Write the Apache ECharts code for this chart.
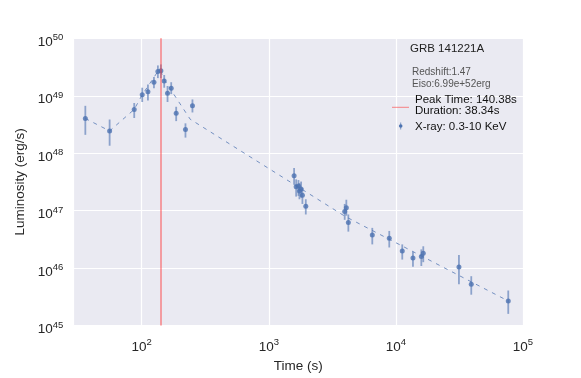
<!DOCTYPE html>
<html>
<head>
<meta charset="utf-8">
<script src="https://cdn.jsdelivr.net/npm/echarts@6/dist/echarts.min.js"></script>
<style>
  html, body { margin: 0; padding: 0; background: #fff; }
  #chart { width: 581px; height: 378px; }
</style>
</head>
<body>
<div id="chart"></div>
<script>
// observed X-ray light curve (time in s, luminosity in erg/s)
const times = [36.0, 55.9, 87.3, 100.9, 111.9, 124.8, 134.0, 141.5, 150.3, 159.6, 170.6, 186.7, 220.9, 250.7,
  1581, 1641, 1711, 1742, 1795, 1838, 1954, 3954, 4073, 4225, 6518, 8868, 11220, 13620, 15850, 16420,
  31330, 39170, 76560];
const lum = [4.02e48, 2.44e48, 5.79e48, 1.04e49, 1.17e49, 1.72e49, 2.65e49, 2.72e49, 1.81e49, 1.11e49, 1.35e49, 4.98e48, 2.59e48, 6.68e48,
  4.04e47, 2.61e47, 2.68e47, 2.19e47, 2.39e47, 1.85e47, 1.20e47, 9.64e46, 1.12e47, 6.25e46, 3.76e46, 3.30e46, 1.99e46, 1.50e46, 1.60e46, 1.82e46,
  1.05e46, 5.26e45, 2.68e45];
const lumLow = [2.09e48, 1.35e48, 4.10e48, 7.78e48, 8.30e48, 1.35e49, 2.03e49, 2.03e49, 1.38e49, 7.78e48, 1.07e49, 3.62e48, 1.87e48, 5.12e48,
  2.82e47, 1.76e47, 1.81e47, 1.58e47, 1.69e47, 1.31e47, 8.59e46, 6.93e46, 8.18e46, 4.32e46, 2.59e46, 2.29e46, 1.41e46, 1.06e46, 1.09e46, 1.27e46,
  5.26e45, 3.45e45, 1.60e45];
const lumHigh = [6.68e48, 3.86e48, 7.48e48, 1.38e49, 1.57e49, 2.13e49, 3.37e49, 3.51e49, 2.30e49, 1.48e49, 1.72e49, 6.43e48, 3.31e48, 8.63e48,
  5.55e47, 3.51e47, 3.41e47, 3.01e47, 3.21e47, 2.48e47, 1.58e47, 1.31e47, 1.55e47, 8.59e46, 5.02e46, 4.44e46, 2.59e46, 1.93e46, 2.12e46, 2.40e46,
  1.70e46, 7.24e45, 4.08e45];

// dashed model curve
const modelTimes = [36.0, 55.9, 87.3, 100.9, 134.0, 141.5, 147.5, 240.5, 3981, 76560];
const modelLum = [4.02e48, 2.44e48, 5.79e48, 1.04e49, 2.65e49, 2.72e49, 2.03e49, 3.91e48, 7.96e46, 2.68e45];

const peakTime = 140.38;
const grbName = 'GRB 141221A';
const infoLines = ['Redshift:1.47', 'Eiso:6.99e+52erg'];
const legendPeak = ['Peak Time: 140.38s', 'Duration: 38.34s'];
const legendXray = 'X-ray: 0.3-10 KeV';

const FONT = '"Liberation Sans", Arial, sans-serif';
const BLUE = '#4C72B0';

const chart = echarts.init(document.getElementById('chart'), null, { renderer: 'canvas' });

const powLabel = (v) => {
  const e = Math.round(Math.log10(v));
  return '{b|10}{s|' + e + '}';
};
const richTicks = {
  b: { fontSize: 13.5, fontFamily: FONT, color: '#262626' },
  s: { fontSize: 9.5, fontFamily: FONT, color: '#262626', padding: [0, 0, 9, 0] }
};

const points = times.map((t, i) => [t, lum[i]]);
const bars = times.map((t, i) => [t, lumLow[i], lumHigh[i]]);
const model = modelTimes.map((t, i) => [t, modelLum[i]]);

const txt = (x, y, text, size, fill) => ({
  type: 'text', x: x, y: y, z: 100,
  style: { text: text, font: size + 'px ' + FONT, fill: fill, verticalAlign: 'middle' }
});

const option = {
  animation: false,
  textStyle: { fontFamily: FONT },
  grid: {
    left: 73.4, right: 58, top: 38.3, bottom: 39,
    show: true, backgroundColor: '#EAEAF2', borderWidth: 0
  },
  xAxis: {
    type: 'log', logBase: 10, min: 29, max: 100000,
    name: 'Time (s)', nameLocation: 'middle', nameGap: 31,
    nameTextStyle: { fontSize: 13.5, color: '#262626', fontFamily: FONT },
    axisLine: { show: false }, axisTick: { show: false },
    axisLabel: { formatter: powLabel, rich: richTicks, margin: 12, showMinLabel: false, hideOverlap: false },
    splitLine: { show: true, lineStyle: { color: '#ffffff', width: 1.2 } }
  },
  yAxis: {
    type: 'log', logBase: 10, min: 1e45, max: 1e50,
    name: 'Luminosity (erg/s)', nameLocation: 'middle', nameGap: 45,
    nameTextStyle: { fontSize: 13.5, color: '#262626', fontFamily: FONT },
    axisLine: { show: false }, axisTick: { show: false },
    axisLabel: { formatter: powLabel, rich: richTicks, margin: 10, padding: [8, 0, 0, 0] },
    splitLine: { show: true, lineStyle: { color: '#ffffff', width: 1.2 } }
  },
  series: [
    {
      type: 'line',
      data: model,
      symbol: 'none',
      lineStyle: { color: 'rgba(76,114,176,0.75)', width: 1, type: [4, 5] },
      z: 2,
      markLine: {
        silent: true,
        symbol: 'none',
        label: { show: false },
        lineStyle: { color: 'rgba(255,60,60,0.6)', width: 1.5, type: 'solid' },
        data: [{ xAxis: peakTime }]
      }
    },
    {
      type: 'custom',
      data: bars,
      z: 3,
      renderItem: (params, api) => {
        const lo = api.coord([api.value(0), api.value(1)]);
        const hi = api.coord([api.value(0), api.value(2)]);
        return {
          type: 'line',
          shape: { x1: lo[0], y1: lo[1], x2: hi[0], y2: hi[1] },
          style: { stroke: 'rgba(76,114,176,0.6)', lineWidth: 1.8 }
        };
      }
    },
    {
      type: 'scatter',
      data: points,
      symbol: 'circle',
      symbolSize: 5,
      itemStyle: { color: BLUE },
      z: 4
    }
  ],
  graphic: [
    txt(410, 49, grbName, 11.5, '#222'),
    txt(412, 72.5, infoLines[0], 10, '#555'),
    txt(412, 84, infoLines[1], 10, '#555'),
    { type: 'line', z: 100, shape: { x1: 392, y1: 107.3, x2: 409, y2: 107.3 }, style: { stroke: 'rgba(255,60,60,0.6)', lineWidth: 1 } },
    txt(415, 99.5, legendPeak[0], 11.5, '#111'),
    txt(415, 111, legendPeak[1], 11.5, '#111'),
    { type: 'line', z: 100, shape: { x1: 400.7, y1: 122.5, x2: 400.7, y2: 129.5 }, style: { stroke: 'rgba(76,114,176,0.7)', lineWidth: 1 } },
    { type: 'circle', z: 100, shape: { cx: 400.7, cy: 126, r: 1.8 }, style: { fill: BLUE } },
    txt(415, 126.5, legendXray, 11.5, '#111')
  ]
};

chart.setOption(option);
</script>
</body>
</html>
